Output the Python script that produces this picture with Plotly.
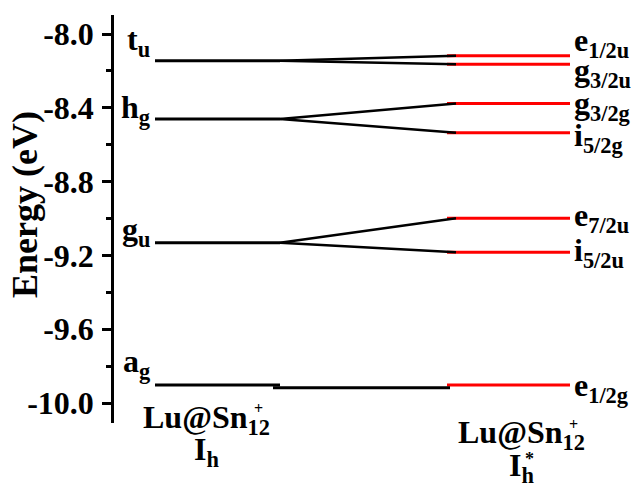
import plotly.graph_objects as go

# ---- data (energies in eV) ----
ih_labels = ["t<sub>u</sub>", "h<sub>g</sub>", "g<sub>u</sub>", "a<sub>g</sub>"]
ih_energies = [-8.145, -8.461, -9.131, -9.902]

ihs_labels = ["e<sub>1/2u</sub>", "g<sub>3/2u</sub>", "g<sub>3/2g</sub>", "i<sub>5/2g</sub>",
              "e<sub>7/2u</sub>", "i<sub>5/2u</sub>", "e<sub>1/2g</sub>"]
ihs_energies = [-8.118, -8.164, -8.376, -8.535, -8.999, -9.183, -9.902]
# which Ih level each Ih* level descends from
parent_index = [0, 0, 1, 1, 2, 2, 3]
# the a_g connector is drawn slightly lower in the original
ag_connector_energy = -9.917

tick_vals = [-8.0, -8.4, -8.8, -9.2, -9.6, -10.0]
tick_text = ["-8.0", "-8.4", "-8.8", "-9.2", "-9.6", "-10.0"]

# ---- layout constants (x in axis units ~ pixels) ----
L0, L1 = 155, 280
R0, R1 = 447, 570
C1 = 456
FONT = "Liberation Serif, Times New Roman, serif"
FS = 32

fig = go.Figure()

for e in ih_energies:
    fig.add_trace(go.Scatter(x=[L0, L1], y=[e, e], mode="lines",
                             line=dict(color="black", width=3), showlegend=False, hoverinfo="skip"))

for e in ihs_energies:
    fig.add_trace(go.Scatter(x=[R0, R1], y=[e, e], mode="lines",
                             line=dict(color="#ff0000", width=3), showlegend=False, hoverinfo="skip"))

for e, p in zip(ihs_energies, parent_index):
    if p == 3:
        fig.add_trace(go.Scatter(x=[L1 - 7, C1 - 6], y=[ag_connector_energy, ag_connector_energy],
                                 mode="lines", line=dict(color="black", width=3),
                                 showlegend=False, hoverinfo="skip"))
    else:
        fig.add_trace(go.Scatter(x=[L1, C1], y=[ih_energies[p], e], mode="lines",
                                 line=dict(color="black", width=2.5), showlegend=False, hoverinfo="skip"))

ann = []
left_label_dy = [19, 10, 11, 21]
for lab, e, dy in zip(ih_labels, ih_energies, left_label_dy):
    ann.append(dict(x=152, y=e, xref="x", yref="y", text=lab, showarrow=False,
                    xanchor="right", yanchor="middle", yshift=dy,
                    font=dict(family=FONT, size=FS, color="black")))
right_label_dy = [13, -8, -2, -5, 1, 0, -3]
for lab, e, dy in zip(ihs_labels, ihs_energies, right_label_dy):
    ann.append(dict(x=572, y=e, xref="x", yref="y", text=lab, showarrow=False,
                    xanchor="left", yanchor="middle", yshift=dy,
                    font=dict(family=FONT, size=FS, color="black")))

def ypap(py):
    return (423 - py) / 408.0

for cx, py, star in [(206, 419, False), (521, 435, True)]:
    ann.append(dict(x=cx, y=ypap(py), xref="x", yref="paper", text="Lu@Sn<sub>12</sub>",
                    showarrow=False, xanchor="center", yanchor="middle",
                    font=dict(family=FONT, size=FS, color="black")))
    ann.append(dict(x=cx + 52, y=ypap(py - 11), xref="x", yref="paper", text="+",
                    showarrow=False, xanchor="center", yanchor="middle",
                    font=dict(family=FONT, size=16, color="black")))
    ann.append(dict(x=cx, y=ypap(py + 32), xref="x", yref="paper", text="I<sub>h</sub>",
                    showarrow=False, xanchor="center", yanchor="middle",
                    font=dict(family=FONT, size=FS, color="black")))
    if star:
        ann.append(dict(x=cx + 8, y=ypap(py + 24), xref="x", yref="paper", text="*",
                        showarrow=False, xanchor="center", yanchor="middle",
                        font=dict(family=FONT, size=18, color="black")))

ann.append(dict(x=(25 - 114) / 517.0, y=ypap(205), xref="paper", yref="paper",
                text="Energy (eV)", showarrow=False, textangle=-90,
                xanchor="center", yanchor="middle",
                font=dict(family=FONT, size=36, color="black")))

for a in ann:
    a["text"] = "<b>" + a["text"] + "</b>"

fig.update_layout(
    width=631, height=488,
    margin=dict(l=114, r=0, t=15, b=65),
    plot_bgcolor="white", paper_bgcolor="white",
    annotations=ann,
    xaxis=dict(range=[114, 631], visible=False, fixedrange=True),
    yaxis=dict(range=[-10.108, -7.897], showgrid=False, zeroline=False,
               showline=True, linecolor="black", linewidth=2.5,
               ticks="outside", ticklen=9, tickwidth=2.5, tickcolor="black",
               tickvals=tick_vals, ticktext=["<b>%s</b>" % t for t in tick_text],
               tickfont=dict(family=FONT, size=FS, color="black"),
               minor=dict(tickvals=[-8.2, -8.6, -9.0, -9.4, -9.8], ticks="outside",
                          ticklen=5, tickwidth=2.5, tickcolor="black"),
               ticklabelstandoff=2),
)

fig.write_html("out.html")
